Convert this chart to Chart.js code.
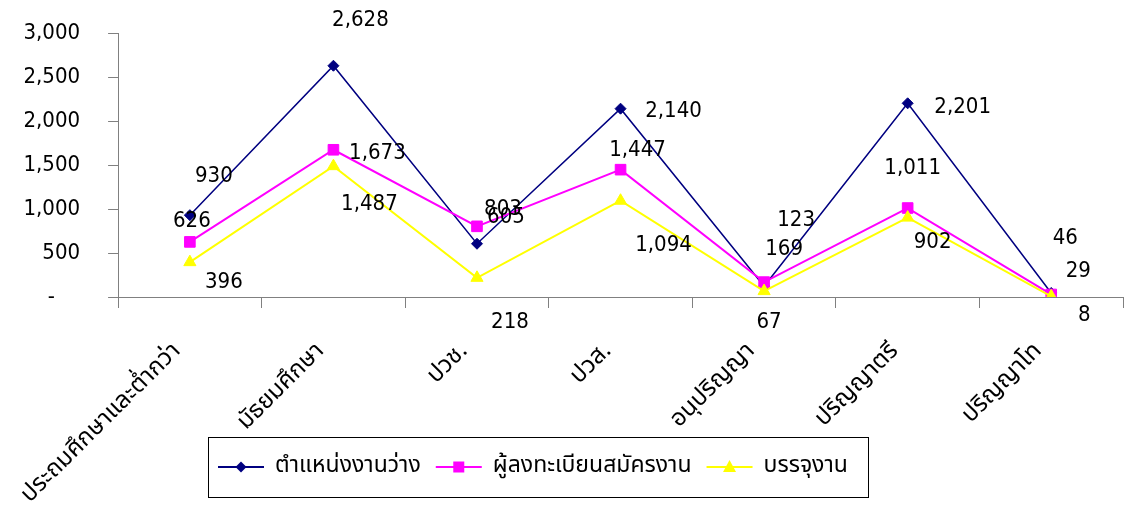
<!DOCTYPE html>
<html>
<head>
<meta charset="utf-8">
<script src="https://cdn.jsdelivr.net/npm/chart.js@4.4.1/dist/chart.umd.min.js"></script>
<style>
  html, body { margin: 0; padding: 0; background: #fff; }
  #wrap { width: 1124px; height: 507px; }
</style>
</head>
<body>
<div id="wrap"><canvas id="chart" width="1124" height="507"></canvas></div>
<script>
const categories = ['ประถมศึกษาและต่ำกว่า', 'มัธยมศึกษา', 'ปวช.', 'ปวส.', 'อนุปริญญา', 'ปริญญาตรี', 'ปริญญาโท'];
const vacancies = [930, 2628, 605, 2140, 123, 2201, 46];
const applicants = [626, 1673, 803, 1447, 169, 1011, 29];
const placements = [396, 1487, 218, 1094, 67, 902, 8];
const seriesNames = ['ตำแหน่งงานว่าง', 'ผู้ลงทะเบียนสมัครงาน', 'บรรจุงาน'];
const yMax = 3000;
const yStep = 500;

const NUM_FONT = '"DejaVu Sans Condensed", "DejaVu Sans", sans-serif';
const THAI_FONT = '"Noto Sans Thai", "Noto Sans", "DejaVu Sans", sans-serif';
const AXIS_GRAY = '#808080';

// where each value label sits relative to its point (dx, dy)
const labelOffsets = [
  [[24, -39], [27, -45], [29, -26], [53, 3], [32, -66], [55, 4], [14, -55]],
  [[2, -21], [44, 4], [26, -17], [17, -19], [20, -33], [5, -40], [27, -23]],
  [[34, 20], [36, 38], [33, 44], [43, 45], [5, 31], [25, 25], [33, 19]]
];

const fmt = v => v.toLocaleString('en-US');

const valueLabels = {
  id: 'valueLabels',
  afterDatasetsDraw(chart) {
    const ctx = chart.ctx;
    ctx.save();
    ctx.font = '22px ' + NUM_FONT;
    ctx.fillStyle = '#000';
    ctx.textAlign = 'center';
    ctx.textBaseline = 'middle';
    chart.data.datasets.forEach((ds, i) => {
      const meta = chart.getDatasetMeta(i);
      meta.data.forEach((pt, j) => {
        const off = labelOffsets[i][j];
        ctx.fillText(fmt(ds.data[j]), pt.x + off[0], pt.y + off[1]);
      });
    });
    ctx.restore();
  }
};

function drawMarker(ctx, style, x, y, color) {
  ctx.fillStyle = color;
  ctx.beginPath();
  if (style === 'rectRot') {
    ctx.moveTo(x, y - 5.5); ctx.lineTo(x + 5.5, y); ctx.lineTo(x, y + 5.5); ctx.lineTo(x - 5.5, y);
  } else if (style === 'rect') {
    ctx.rect(x - 5.5, y - 5.5, 11, 11);
  } else {
    ctx.moveTo(x, y - 7); ctx.lineTo(x + 6.5, y + 5); ctx.lineTo(x - 6.5, y + 5);
  }
  ctx.closePath();
  ctx.fill();
}

const boxLegend = {
  id: 'boxLegend',
  afterDraw(chart) {
    const ctx = chart.ctx;
    const bx = 208, by = 437, bw = 660, bh = 60;
    ctx.save();
    ctx.strokeStyle = '#000';
    ctx.lineWidth = 1;
    ctx.strokeRect(bx + 0.5, by + 0.5, bw, bh);
    ctx.font = '23px ' + THAI_FONT;
    ctx.textBaseline = 'middle';
    ctx.textAlign = 'left';
    const cy = by + bh / 2;
    let x = bx + 10;
    chart.data.datasets.forEach(ds => {
      ctx.strokeStyle = ds.borderColor;
      ctx.lineWidth = 2;
      ctx.beginPath();
      ctx.moveTo(x, cy); ctx.lineTo(x + 46, cy);
      ctx.stroke();
      drawMarker(ctx, ds.pointStyle, x + 23, cy, ds.borderColor);
      x += 57;
      ctx.fillStyle = '#000';
      ctx.fillText(ds.label, x, cy);
      x += ctx.measureText(ds.label).width + 15;
    });
    ctx.restore();
  }
};

new Chart(document.getElementById('chart'), {
  type: 'line',
  data: {
    labels: categories,
    datasets: [
      {
        label: seriesNames[0],
        data: vacancies,
        borderColor: '#000080',
        backgroundColor: '#000080',
        borderWidth: 1.5,
        pointStyle: 'rectRot',
        pointRadius: 5.5,
        pointBorderWidth: 1,
        order: 2
      },
      {
        label: seriesNames[1],
        data: applicants,
        borderColor: '#FF00FF',
        backgroundColor: '#FF00FF',
        borderWidth: 2,
        pointStyle: 'rect',
        pointRadius: 7.5,
        pointBorderWidth: 1,
        order: 1
      },
      {
        label: seriesNames[2],
        data: placements,
        borderColor: '#FFFF00',
        backgroundColor: '#FFFF00',
        borderWidth: 2,
        pointStyle: 'triangle',
        pointRadius: 7,
        pointBorderWidth: 1,
        order: 0
      }
    ]
  },
  options: {
    responsive: false,
    animation: false,
    layout: { autoPadding: false, padding: { top: 33, right: 1, left: 0, bottom: 0 } },
    plugins: {
      legend: { display: false },
      tooltip: { enabled: false }
    },
    scales: {
      x: {
        offset: true,
        grid: { offset: true, drawOnChartArea: false, tickLength: 11, color: AXIS_GRAY },
        border: { color: AXIS_GRAY },
        ticks: {
          autoSkip: false,
          minRotation: 45,
          maxRotation: 45,
          padding: 30,
          labelOffset: -12,
          color: '#000',
          font: { family: THAI_FONT, size: 24 }
        },
        afterFit(scale) { scale.height = 210; }
      },
      y: {
        min: 0,
        max: yMax,
        grid: { drawOnChartArea: false, tickLength: 10, color: AXIS_GRAY },
        border: { color: AXIS_GRAY },
        ticks: {
          stepSize: yStep,
          padding: 28,
          color: '#000',
          font: { family: NUM_FONT, size: 22 },
          callback: v => v === 0 ? '-    ' : fmt(v)
        },
        afterFit(scale) {
          scale.width = 117;
          scale.paddingTop = 0;
          scale.paddingBottom = 0;
        }
      }
    }
  },
  plugins: [valueLabels, boxLegend]
});
</script>
</body>
</html>
